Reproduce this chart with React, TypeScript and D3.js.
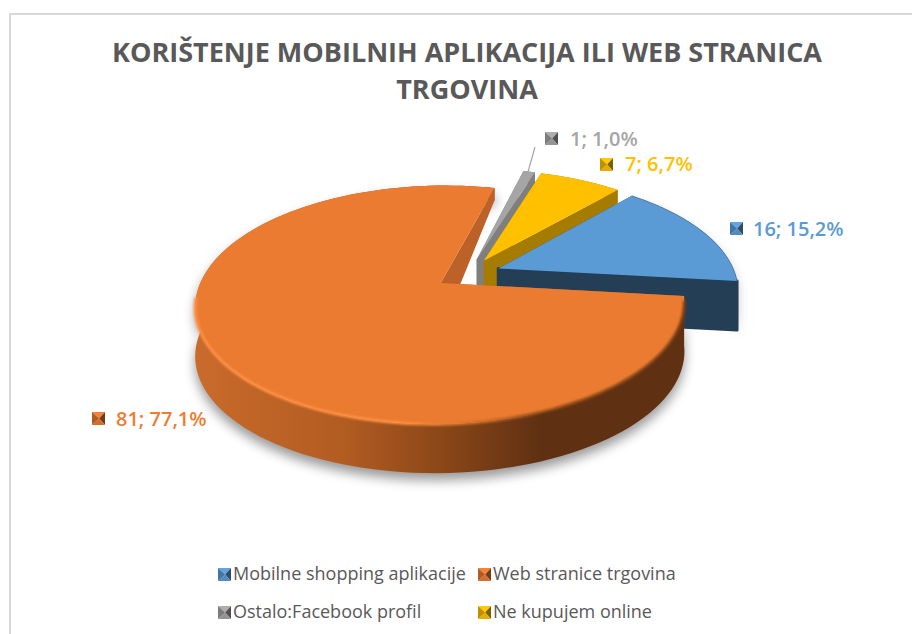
import React from 'react'
import * as d3 from 'd3'

const titleLines = ['KORIŠTENJE MOBILNIH APLIKACIJA ILI WEB STRANICA', 'TRGOVINA']
const categories = ['Mobilne shopping aplikacije', 'Web stranice trgovina', 'Ostalo:Facebook profil', 'Ne kupujem online']
const values = [16, 81, 1, 7]
const percents = ['15,2%', '77,1%', '1,0%', '6,7%']
const topColors = ['#5B9BD5', '#EA7B30', '#A5A5A5', '#FFC000']
const labelColors = ['#5B9BD5', '#ED7D31', '#A5A5A5', '#FFC000']
const wallColors = ['#243E55', '#BC6228', '#7F7F7F', '#A67C00']

const width = 912
const height = 634
const cx = 468
const cy = 274
const scaleX = 237
const scaleY = 112
const persp = 0.181
const explode = 0.138
const rotation = (41.5 * Math.PI) / 180

// wall height shrinks towards the back of the tilted pie
const wallHeight = d3.scaleLinear().domain([-0.9, -0.1]).range([12, 49]).clamp(true)

// tilted plane -> screen, bottom picks the lower face of the disc
const project = (u: number, v: number, bottom = false): [number, number] => {
  const w = 1 - persp * v
  return [cx + (scaleX * u) / w, cy + (scaleY * v) / w + (bottom ? wallHeight(v) : 0)]
}

const slices = d3
  .pie<number>()
  .sort(null)
  .startAngle(rotation)
  .endAngle(rotation + Math.PI * 2)(values)

const pointAt = (mid: number, a: number, r: number, bottom = false) =>
  project(explode * Math.sin(mid) + r * Math.sin(a), -explode * Math.cos(mid) - r * Math.cos(a), bottom)

const line = d3.line()

const arcPoints = (s: d3.PieArcDatum<number>, bottom = false) => {
  const mid = (s.startAngle + s.endAngle) / 2
  return d3.range(0, 1.0001, 1 / 120).map(t => pointAt(mid, s.startAngle + t * (s.endAngle - s.startAngle), 1, bottom))
}

const topPath = (s: d3.PieArcDatum<number>) => {
  const mid = (s.startAngle + s.endAngle) / 2
  return line([pointAt(mid, 0, 0), ...arcPoints(s)]) + 'Z'
}

const rimPath = (s: d3.PieArcDatum<number>) =>
  line([...arcPoints(s), ...arcPoints(s, true).reverse()]) + 'Z'

const cutPath = (s: d3.PieArcDatum<number>, a: number) => {
  const mid = (s.startAngle + s.endAngle) / 2
  return line([pointAt(mid, 0, 0), pointAt(mid, a, 1), pointAt(mid, a, 1, true), pointAt(mid, 0, 0, true)]) + 'Z'
}

// the bevelled square key that the spreadsheet draws
const Marker = ({ x, y, i, size = 12 }: { x: number; y: number; i: number; size?: number }) => {
  const c = d3.color(topColors[i])!
  const m: [number, number] = [x + size * 0.55, y + size / 2]
  const a: [number, number] = [x, y]
  const b: [number, number] = [x + size, y]
  const d: [number, number] = [x + size, y + size]
  const e: [number, number] = [x, y + size]
  return (
    <g>
      <path d={line([a, b, m])! + 'Z'} fill={c.brighter(0.15).formatHex()} />
      <path d={line([b, d, m])! + 'Z'} fill={c.darker(2).formatHex()} />
      <path d={line([d, e, m])! + 'Z'} fill={c.darker(0.3).formatHex()} />
      <path d={line([e, a, m])! + 'Z'} fill={c.darker(0.8).formatHex()} />
    </g>
  )
}

const drawOrder = [2, 3, 0, 1]
const labelPos = [
  { x: 753, y: 236, mx: 730, my: 222 },
  { x: 116, y: 426, mx: 92, my: 412 },
  { x: 570, y: 146, mx: 545, my: 132 },
  { x: 625, y: 171, mx: 600, my: 158 },
]
const legendPos = [
  { x: 233, y: 580 },
  { x: 493, y: 580 },
  { x: 233, y: 618 },
  { x: 493, y: 618 },
]
const font = '"Open Sans", sans-serif'

export default function App() {
  const orange = slices[1]
  return (
    <svg
      width={width}
      height={height}
      viewBox={`0 0 ${width} ${height}`}
      style={{ position: 'fixed', left: 0, top: 0, background: '#fff' }}
    >
      <defs>
        <filter id="soft" x="-20%" y="-20%" width="140%" height="140%">
          <feGaussianBlur stdDeviation="6" />
        </filter>
        <filter id="edge" x="-5%" y="-10%" width="110%" height="120%">
          <feGaussianBlur stdDeviation="1" />
        </filter>
        <linearGradient id="orangeWall" gradientUnits="userSpaceOnUse" x1="195" x2="690" y1="0" y2="0">
          <stop offset="0" stopColor="#C96B2B" />
          <stop offset="0.3" stopColor="#B25C22" />
          <stop offset="0.5" stopColor="#8A4718" />
          <stop offset="0.7" stopColor="#5F3012" />
          <stop offset="1" stopColor="#5F3012" />
        </linearGradient>
        <linearGradient id="orangeEdge" gradientUnits="userSpaceOnUse" x1="195" x2="690" y1="0" y2="0">
          <stop offset="0" stopColor="#FF8F45" />
          <stop offset="0.42" stopColor="#FF8F45" />
          <stop offset="0.55" stopColor="#D9722B" />
          <stop offset="0.7" stopColor="#8A4718" />
          <stop offset="1" stopColor="#7A3E15" />
        </linearGradient>
      </defs>
      <path d="M10,634V14H912" fill="none" stroke="#D9D9D9" strokeWidth={2} />

      <g fontFamily={font} fontWeight={700} fontSize={27} fill="#595959" textAnchor="middle">
        {titleLines.map((t, i) => (
          <text key={t} x={467} y={62 + i * 37}>
            {t}
          </text>
        ))}
      </g>

      <path d={rimPath(orange)} fill="#000" opacity={0.4} filter="url(#soft)" transform="translate(0,7)" />
      <path d={rimPath(slices[0])} fill="#000" opacity={0.25} filter="url(#soft)" transform="translate(0,6)" />

      {drawOrder.map(i => {
        const s = slices[i]
        return (
          <g key={categories[i]}>
            <path d={cutPath(s, s.startAngle)} fill={wallColors[i]} />
            <path d={rimPath(s)} fill={i === 1 ? 'url(#orangeWall)' : wallColors[i]} />
            <path
              d={cutPath(s, s.endAngle)}
              fill={wallColors[i]}
              stroke={i === 0 ? wallColors[i] : 'none'}
              strokeWidth={3}
              strokeLinejoin="round"
            />
            <path d={topPath(s)} fill={topColors[i]} />
          </g>
        )
      })}
      <path
        d={line(arcPoints(orange).filter(p => p[1] > cy + 22))!}
        fill="none"
        stroke="url(#orangeEdge)"
        strokeWidth={3}
        filter="url(#edge)"
      />

      <path d={line(arcPoints(slices[0]))!} fill="none" stroke="#3F6E99" strokeWidth={1} opacity={0.6} />
      <line x1={528} y1={172} x2={535} y2={147} stroke="#A6A6A6" strokeWidth={1.2} />

      {values.map((v, i) => (
        <g key={categories[i]}>
          <Marker x={labelPos[i].mx} y={labelPos[i].my} i={i} size={13} />
          <text
            x={labelPos[i].x}
            y={labelPos[i].y}
            fontFamily={font}
            fontWeight={600}
            fontSize={20}
            fill={labelColors[i]}
          >
            {`${v}; ${percents[i]}`}
          </text>
        </g>
      ))}

      {categories.map((c, i) => (
        <g key={c}>
          <Marker x={legendPos[i].x - 15} y={legendPos[i].y - 12} i={i} size={13} />
          <text x={legendPos[i].x} y={legendPos[i].y} fontFamily={font} fontSize={18} fill="#595959">
            {c}
          </text>
        </g>
      ))}
    </svg>
  )
}
